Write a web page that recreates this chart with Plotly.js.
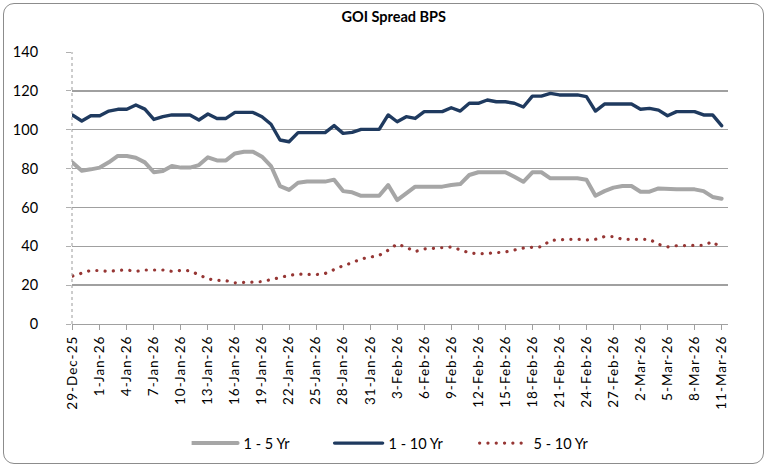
<!DOCTYPE html>
<html>
<head>
<meta charset="utf-8">
<script src="https://cdn.plot.ly/plotly-3.0.1.min.js"></script>
<style>
  html, body { margin: 0; padding: 0; background: #ffffff; }
  #wrap { position: relative; width: 769px; height: 467px; }
  #chart { position: absolute; left: 0; top: 0; width: 769px; height: 467px; }
  #frame { position: absolute; left: 3px; top: 3px; width: 759px; height: 459px;
           border: 1px solid #8c8c8c; border-radius: 11px; pointer-events: none; }
  path.js-line { stroke-linecap: round; stroke-linejoin: round; }
  .xtick text { letter-spacing: 1px; }
</style>
</head>
<body>
<div id="wrap">
  <div id="chart"></div>
  <div id="frame"></div>
</div>
<script>
// Dates (x categories)
const dates = [
  "2025-12-29","2025-12-30","2025-12-31",
  "2026-01-01","2026-01-02","2026-01-03","2026-01-04","2026-01-05","2026-01-06","2026-01-07","2026-01-08","2026-01-09","2026-01-10",
  "2026-01-11","2026-01-12","2026-01-13","2026-01-14","2026-01-15","2026-01-16","2026-01-17","2026-01-18","2026-01-19","2026-01-20",
  "2026-01-21","2026-01-22","2026-01-23","2026-01-24","2026-01-25","2026-01-26","2026-01-27","2026-01-28","2026-01-29","2026-01-30","2026-01-31",
  "2026-02-01","2026-02-02","2026-02-03","2026-02-04","2026-02-05","2026-02-06","2026-02-07","2026-02-08","2026-02-09","2026-02-10",
  "2026-02-11","2026-02-12","2026-02-13","2026-02-14","2026-02-15","2026-02-16","2026-02-17","2026-02-18","2026-02-19","2026-02-20",
  "2026-02-21","2026-02-22","2026-02-23","2026-02-24","2026-02-25","2026-02-26","2026-02-27","2026-02-28",
  "2026-03-01","2026-03-02","2026-03-03","2026-03-04","2026-03-05","2026-03-06","2026-03-07","2026-03-08","2026-03-09","2026-03-10","2026-03-11"
];

// 1 - 5 Yr spread (bps)
const spread1to5 = [
  83.0, 78.9, 79.6, 80.5, 83.2, 86.5, 86.5, 85.6, 83.2, 78.1,
  78.7, 81.3, 80.5, 80.5, 81.8, 85.8, 84.2, 84.2, 87.8, 88.7,
  88.7, 86.1, 81.3, 71.0, 69.0, 72.7, 73.3, 73.3, 73.3, 74.3,
  68.4, 67.8, 66.0, 66.0, 66.0, 71.5, 63.8, 67.2, 70.7, 70.7,
  70.7, 70.7, 71.5, 72.0, 76.7, 78.1, 78.1, 78.1, 78.1, 75.8,
  73.2, 78.1, 78.1, 75.0, 75.0, 75.0, 75.0, 74.3, 66.0, 68.4,
  70.2, 71.0, 71.0, 68.1, 68.1, 69.8, 69.3, 69.3, 69.3, 69.3,
  68.4, 65.4, 64.5
];

// 1 - 10 Yr spread (bps)
const spread1to10 = [
  107.5, 104.5, 107.2, 107.2, 109.6, 110.5, 110.5, 112.7, 110.6, 105.3,
  106.7, 107.6, 107.6, 107.6, 105.0, 108.1, 105.8, 105.8, 108.9, 108.9,
  108.9, 106.7, 102.8, 94.7, 93.8, 98.5, 98.5, 98.5, 98.5, 102.1,
  98.1, 98.6, 100.2, 100.2, 100.2, 107.6, 104.1, 106.7, 105.8, 109.3,
  109.3, 109.3, 111.3, 109.6, 113.6, 113.6, 115.3, 114.4, 114.4, 113.6,
  111.7, 117.3, 117.3, 118.7, 117.9, 117.9, 117.9, 117.0, 109.6, 113.2,
  113.2, 113.2, 113.2, 110.5, 111.0, 110.1, 107.2, 109.3, 109.3, 109.3,
  107.6, 107.6, 102.1
];

// 5 - 10 Yr spread (bps)
const spread5to10 = [
  24.7, 26.3, 27.6, 27.5, 27.0, 27.6, 27.8, 27.1, 27.8, 27.8,
  27.8, 27.1, 27.6, 27.4, 25.4, 23.2, 22.5, 22.3, 21.2, 21.6,
  21.6, 21.8, 23.0, 24.0, 25.0, 25.7, 25.6, 25.4, 26.0, 28.0,
  30.0, 31.5, 33.5, 34.4, 35.3, 38.0, 41.2, 39.5, 37.3, 38.6,
  38.9, 38.9, 39.6, 38.2, 36.6, 36.1, 36.6, 36.7, 37.1, 38.1,
  39.1, 39.5, 39.7, 43.0, 43.5, 43.6, 43.6, 43.3, 43.6, 45.0,
  45.0, 43.6, 43.6, 43.6, 43.6, 41.0, 39.7, 40.3, 40.3, 40.1,
  40.5, 42.4, 38.8
];

// Tick positions and labels
const tickDates = [
  "2025-12-29","2026-01-01","2026-01-04","2026-01-07","2026-01-10","2026-01-13","2026-01-16",
  "2026-01-19","2026-01-22","2026-01-25","2026-01-28","2026-01-31","2026-02-03","2026-02-06",
  "2026-02-09","2026-02-12","2026-02-15","2026-02-18","2026-02-21","2026-02-24","2026-02-27",
  "2026-03-02","2026-03-05","2026-03-08","2026-03-11"
];
const tickLabels = [
  "29-Dec-25","1-Jan-26","4-Jan-26","7-Jan-26","10-Jan-26","13-Jan-26","16-Jan-26",
  "19-Jan-26","22-Jan-26","25-Jan-26","28-Jan-26","31-Jan-26","3-Feb-26","6-Feb-26",
  "9-Feb-26","12-Feb-26","15-Feb-26","18-Feb-26","21-Feb-26","24-Feb-26","27-Feb-26",
  "2-Mar-26","5-Mar-26","8-Mar-26","11-Mar-26"
];
const seriesNames = ["1 - 5 Yr", "1 - 10 Yr", "5 - 10 Yr"];
const yTicks = [0, 20, 40, 60, 80, 100, 120, 140];

const FONT = "Lato, 'Open Sans', sans-serif";

const traces = [
  { x: dates, y: spread1to5, name: seriesNames[0], type: "scatter", mode: "lines",
    line: { color: "#a6a6a6", width: 4 } },
  { x: dates, y: spread1to10, name: seriesNames[1], type: "scatter", mode: "lines",
    line: { color: "#1f3a5f", width: 3.4 } },
  { x: dates, y: spread5to10, name: seriesNames[2], type: "scatter", mode: "lines",
    line: { color: "#963634", width: 3.2, dash: "0.1px,8.2px" } }
];

const layout = {
  width: 769, height: 467,
  margin: { l: 72, r: 41, t: 52, b: 143, pad: 0 },
  paper_bgcolor: "#ffffff", plot_bgcolor: "#ffffff",
  font: { family: FONT, color: "#000000", size: 13 },
  title: { text: "<b>GOI Spread BPS</b>", font: { family: FONT, size: 14.5, color: "#000000" },
           x: 0.512, xref: "container", xanchor: "center", y: 0.963, yref: "container", yanchor: "middle" },
  showlegend: true,
  legend: { orientation: "h", xref: "container", yref: "container", x: 0.532, xanchor: "center",
            y: 0.051, yanchor: "middle", font: { family: FONT, size: 14.5, color: "#000000" },
            entrywidth: 100, bgcolor: "rgba(0,0,0,0)" },
  xaxis: {
    type: "date",
    range: ["2025-12-28 22:00", "2026-03-11 17:00"],
    tickmode: "array", tickvals: tickDates, ticktext: tickLabels,
    tickangle: -90, tickfont: { family: FONT, size: 13.5, color: "#000000" },
    ticks: "outside", ticklen: 5, tickcolor: "#a0a0a0", tickwidth: 1,
    showgrid: false, zeroline: false,
    showline: true, linecolor: "#a0a0a0", linewidth: 1.3
  },
  yaxis: {
    range: [0, 140], tickmode: "array", tickvals: yTicks,
    tickfont: { family: FONT, size: 14.5, color: "#000000" },
    ticks: "outside", ticklen: 5, tickcolor: "#b0b0b0", tickwidth: 1,
    ticklabelstandoff: 25,
    showgrid: true, gridcolor: "#a0a0a0", gridwidth: 1.3,
    zeroline: false, showline: false
  },
  shapes: [
    { type: "line", xref: "paper", yref: "paper", x0: 0, x1: 0, y0: 0, y1: 1,
      line: { color: "#9a9a9a", width: 1, dash: "dot" } }
  ]
};

Plotly.newPlot("chart", traces, layout, { displayModeBar: false, staticPlot: true }).then(function (gd) {
  // Longer legend symbols like the reference (50px line, text right after)
  gd.querySelectorAll(".legend .traces").forEach(function (g) {
    g.querySelectorAll("path.js-line").forEach(function (p) { p.setAttribute("d", "M-2,0h48"); });
    const t = g.querySelector("text.legendtext");
    if (t) { t.setAttribute("x", String(parseFloat(t.getAttribute("x") || 40) + 12)); }
  });
});
</script>
</body>
</html>
